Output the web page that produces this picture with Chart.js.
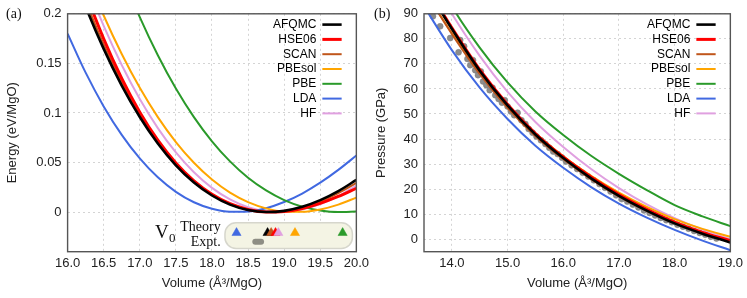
<!DOCTYPE html>
<html>
<head>
<meta charset="utf-8">
<script src="https://cdn.jsdelivr.net/npm/chart.js@4/dist/chart.umd.min.js"></script>
<style>
  html, body { margin: 0; padding: 0; background: #fff; }
  #wrap { position: relative; width: 747px; height: 298px; }
  #ca { position: absolute; left: 0; top: 0; }
  #cb { position: absolute; left: 373px; top: 0; }
</style>
</head>
<body>
<div id="wrap">
  <canvas id="ca" width="373" height="298"></canvas>
  <canvas id="cb" width="374" height="298"></canvas>
</div>
<script>
// ---- data: panel (a), energy vs volume ----
const energyVolumes = [16.0, 16.25, 16.5, 16.75, 17.0, 17.25, 17.5, 17.75, 18.0, 18.25, 18.5, 18.75, 19.0, 19.25, 19.5, 19.75, 20.0];
const eAFQMC  = [0.2557, 0.2072, 0.1646, 0.1276, 0.0959, 0.0692, 0.0472, 0.0298, 0.0167, 0.0075, 0.0020, 0.0000, 0.0012, 0.0053, 0.0120, 0.0211, 0.0324];
const eHSE06  = [0.2746, 0.2213, 0.1748, 0.1348, 0.1008, 0.0725, 0.0495, 0.0314, 0.0179, 0.0084, 0.0026, 0.0001, 0.0006, 0.0036, 0.0088, 0.0157, 0.0240];
const eSCAN   = [0.2626, 0.2128, 0.1691, 0.1312, 0.0987, 0.0714, 0.0490, 0.0312, 0.0177, 0.0082, 0.0024, 0.0001, 0.0009, 0.0045, 0.0106, 0.0190, 0.0294];
const ePBEsol = [0.2916, 0.2424, 0.1983, 0.1594, 0.1253, 0.0958, 0.0706, 0.0497, 0.0328, 0.0196, 0.0100, 0.0037, 0.0005, 0.0002, 0.0026, 0.0075, 0.0146];
const ePBE    = [0.4065, 0.3451, 0.2899, 0.2405, 0.1967, 0.1582, 0.1246, 0.0958, 0.0714, 0.0511, 0.0346, 0.0218, 0.0121, 0.0055, 0.0016, 0.0000, 0.0006];
const eLDA    = [0.1800, 0.1406, 0.1066, 0.0779, 0.0541, 0.0350, 0.0204, 0.0099, 0.0033, 0.0003, 0.0006, 0.0039, 0.0101, 0.0187, 0.0296, 0.0425, 0.0570];
const eHF     = [0.2837, 0.2330, 0.1879, 0.1484, 0.1140, 0.0847, 0.0601, 0.0401, 0.0244, 0.0128, 0.0050, 0.0009, 0.0001, 0.0026, 0.0080, 0.0161, 0.0267];
const energyXTicks = [16.0, 16.5, 17.0, 17.5, 18.0, 18.5, 19.0, 19.5, 20.0];
const energyYTicks = [0, 0.05, 0.1, 0.15, 0.2];

// equilibrium volumes shown in the inset box
const v0Methods = ["LDA", "AFQMC", "SCAN", "HSE06", "HF", "PBEsol", "PBE"];
const v0Theory  = [18.34, 18.77, 18.82, 18.88, 18.92, 19.15, 19.81];
const v0Expt    = [18.60, 18.68];

// ---- data: panel (b), pressure vs volume ----
const pressureVolumes = [13.5, 14.0, 14.5, 15.0, 15.5, 16.0, 16.5, 17.0, 17.5, 18.0, 18.5, 19.0];
const pAFQMC  = [102.0, 84.0, 67.3, 53.4, 41.8, 32.4, 24.3, 17.3, 11.4, 6.3, 2.2, -1.3];
const pHSE06  = [102.5, 84.4, 67.7, 53.8, 42.2, 32.8, 24.8, 17.8, 11.9, 6.8, 2.7, -0.6];
const pSCAN   = [99.5, 82.0, 66.0, 52.5, 41.2, 32.0, 24.0, 17.1, 11.3, 6.4, 2.4, -1.0];
const pPBEsol = [99.5, 82.3, 66.8, 53.4, 42.3, 33.1, 25.3, 18.6, 12.9, 8.0, 4.1, 1.0];
const pPBE    = [114.0, 93.0, 76.5, 62.6, 51.0, 41.6, 33.3, 26.1, 19.6, 13.6, 9.1, 5.2];
const pLDA    = [93.0, 75.5, 60.5, 48.0, 37.3, 28.5, 20.8, 14.2, 8.6, 3.7, -0.6, -4.4];
const pHF     = [109.0, 90.0, 73.2, 58.8, 46.8, 36.8, 28.0, 20.4, 13.9, 8.4, 3.8, 0.0];
const pressureXTicks = [14, 15, 16, 17, 18, 19];
const pressureYTicks = [0, 10, 20, 30, 40, 50, 60, 70, 80, 90];

// experimental compression data (gray symbols)
const expV = [13.66, 13.79, 13.97, 14.12, 14.15, 14.22, 14.28, 14.33, 14.38, 14.42, 14.47, 14.52, 14.56, 14.62, 14.68, 14.73, 14.78, 14.84, 14.90, 14.95,
              15.00, 15.06, 15.12, 15.18, 15.25, 15.32, 15.38, 15.45, 15.52, 15.60, 15.68, 15.75, 15.82, 15.90, 15.98, 16.05, 16.15, 16.25, 16.35, 16.45,
              16.55, 16.65, 16.75, 16.85, 16.95, 17.05, 17.15, 17.25, 17.35, 17.45, 17.55, 17.65, 17.75, 17.85, 17.95, 18.05, 18.15, 18.25, 18.35, 18.45,
              18.55, 18.65, 18.75];
const expP = [89.0, 85.0, 80.3, 74.6, 79.5, 77.0, 72.0, 69.5, 71.5, 67.5, 65.5, 67.0, 63.0, 61.5, 59.5, 60.5, 57.5, 56.0, 54.5, 55.5,
              53.0, 51.0, 49.5, 50.5, 47.5, 46.0, 44.0, 42.5, 41.0, 39.5, 38.0, 36.5, 35.0, 34.0, 32.5, 31.0, 29.5, 28.0, 26.5, 25.0,
              23.5, 22.0, 20.5, 19.0, 17.5, 16.0, 15.0, 13.8, 12.7, 11.5, 10.5, 9.5, 8.5, 7.6, 6.8, 5.8, 5.0, 4.2, 3.3, 2.5,
              1.8, 1.0, 0.3];

// ---- styling ----
const methods = ["AFQMC", "HSE06", "SCAN", "PBEsol", "PBE", "LDA", "HF"];
const colors = { AFQMC: "#000000", HSE06: "#ff0000", SCAN: "#c0561b", PBEsol: "#ffa500", PBE: "#2a9a2a", LDA: "#4169e1", HF: "#e0a0e0" };
const widths = { AFQMC: 2.6, HSE06: 3, SCAN: 2, PBEsol: 2, PBE: 2, LDA: 2, HF: 2 };
const SANS = '"Liberation Sans", Arial, Helvetica, sans-serif';
const SERIF = '"Liberation Serif", "Times New Roman", serif';
const tickFont = { family: SANS, size: 13 };
const gridColor = "#d4d4d4";

const energySeries = { AFQMC: eAFQMC, HSE06: eHSE06, SCAN: eSCAN, PBEsol: ePBEsol, PBE: ePBE, LDA: eLDA, HF: eHF };
const pressureSeries = { AFQMC: pAFQMC, HSE06: pHSE06, SCAN: pSCAN, PBEsol: pPBEsol, PBE: pPBE, LDA: pLDA, HF: pHF };

function curves(xs, table) {
  return methods.map(m => ({
    label: m,
    key: true,
    data: xs.map((x, i) => ({ x: x, y: table[m][i] })),
    borderColor: colors[m],
    borderWidth: widths[m],
    pointRadius: 0,
    fill: false,
    cubicInterpolationMode: "monotone",
    clip: 0
  }));
}

// box round the chart area
const framePlugin = {
  id: "frame",
  afterDraw(chart) {
    const { ctx, chartArea: a } = chart;
    ctx.save();
    ctx.strokeStyle = "#555";
    ctx.lineWidth = 1.4;
    ctx.strokeRect(a.left, a.top, a.right - a.left, a.bottom - a.top);
    ctx.restore();
  }
};

// gnuplot-like key: text first, line sample on the right
const keyPlugin = {
  id: "key",
  afterDraw(chart) {
    const { ctx, chartArea: a } = chart;
    ctx.save();
    ctx.font = "12px " + SANS;
    ctx.textAlign = "right";
    ctx.textBaseline = "middle";
    let row = 0;
    chart.data.datasets.forEach(ds => {
      if (!ds.key) return;
      const y = a.top + 10.8 + row * 14.8;
      ctx.fillStyle = "#000";
      ctx.fillText(ds.label, a.right - 40, y);
      ctx.strokeStyle = ds.borderColor;
      ctx.lineWidth = ds.borderWidth;
      ctx.beginPath();
      ctx.moveTo(a.right - 34, y);
      ctx.lineTo(a.right - 14.7, y);
      ctx.stroke();
      row++;
    });
    ctx.restore();
  }
};

// panel tag "(a)" / "(b)"
const tagPlugin = {
  id: "tag",
  afterDraw(chart, args, opts) {
    const ctx = chart.ctx;
    ctx.save();
    ctx.font = "14px " + SERIF;
    ctx.fillStyle = "#111";
    ctx.textBaseline = "middle";
    ctx.fillText(opts.text, opts.x, opts.y);
    ctx.restore();
  }
};

// V0 inset: rounded box + labels (markers are datasets)
const insetPlugin = {
  id: "inset",
  beforeDatasetsDraw(chart) {
    const { ctx, scales } = chart;
    const x0 = scales.x.getPixelForValue(18.18), x1 = scales.x.getPixelForValue(19.945);
    const y0 = scales.y.getPixelForValue(-0.0108), y1 = scales.y.getPixelForValue(-0.0368);
    const r = 11;
    ctx.save();
    ctx.beginPath();
    ctx.moveTo(x0 + r, y0);
    ctx.arcTo(x1, y0, x1, y1, r);
    ctx.arcTo(x1, y1, x0, y1, r);
    ctx.arcTo(x0, y1, x0, y0, r);
    ctx.arcTo(x0, y0, x1, y0, r);
    ctx.closePath();
    ctx.fillStyle = "#f4f4e4";
    ctx.fill();
    ctx.strokeStyle = "#d6d6cc";
    ctx.lineWidth = 1.5;
    ctx.stroke();

    ctx.fillStyle = "#111";
    ctx.textBaseline = "alphabetic";
    ctx.font = "19px " + SERIF;
    ctx.fillText("V", 155, 238);
    ctx.font = "13px " + SERIF;
    ctx.fillText("0", 169, 242);
    ctx.font = "14px " + SERIF;
    ctx.textAlign = "right";
    ctx.fillText("Theory", 220.7, 231);
    ctx.fillText("Expt.", 220.7, 246);
    ctx.restore();
  }
};

function axisX(min, max, ticks, height) {
  return {
    type: "linear", min: min, max: max,
    afterBuildTicks: s => { s.ticks = ticks.map(v => ({ value: v })); },
    afterFit: s => { s.height = height; },
    ticks: { callback: v => v.toFixed(1), font: tickFont, color: "#222", padding: 4, autoSkip: false, maxRotation: 0 },
    grid: { color: gridColor, drawTicks: false },
    border: { display: false, dash: [2, 3] },
    title: { display: true, text: "Volume (Å³/MgO)", font: { family: SANS, size: 13 }, color: "#222", padding: { top: 0, bottom: 6.5 } }
  };
}

function axisY(min, max, ticks, width, label, fmt, titlePad) {
  return {
    type: "linear", min: min, max: max,
    afterBuildTicks: s => { s.ticks = ticks.map(v => ({ value: v })); },
    afterFit: s => { s.width = width; },
    ticks: { callback: fmt, font: tickFont, color: "#222", padding: 6 },
    grid: { color: gridColor, drawTicks: false },
    border: { display: false, dash: [2, 3] },
    title: { display: true, text: label, font: { family: SANS, size: 13 }, color: "#222", padding: { top: titlePad, bottom: 0 } }
  };
}

// ---- panel (a) ----
const theoryRow = -0.021, exptRow = -0.030;
const energyDatasets = curves(energyVolumes, energySeries).concat([
  {
    type: "scatter",
    label: "V0 theory",
    data: v0Theory.map(v => ({ x: v, y: theoryRow })),
    pointStyle: "triangle",
    pointRadius: 5.3,
    backgroundColor: v0Methods.map(m => colors[m]),
    borderColor: v0Methods.map(m => colors[m]),
    borderWidth: 0.5
  },
  {
    type: "line",
    label: "V0 expt",
    data: v0Expt.map(v => ({ x: v, y: exptRow })),
    borderColor: "#8e8e84",
    borderWidth: 6,
    borderCapStyle: "round",
    pointRadius: 0
  }
]);

new Chart(document.getElementById("ca"), {
  type: "line",
  data: { datasets: energyDatasets },
  options: {
    responsive: false, animation: false, devicePixelRatio: 1,
    layout: { padding: { left: 0, right: 12.3, top: 10.5, bottom: 0 } },
    plugins: { legend: { display: false }, tooltip: { enabled: false }, tag: { text: "(a)", x: 6, y: 14.5 } },
    scales: {
      x: axisX(16, 20, energyXTicks, 46.3),
      y: axisY(-0.04, 0.2, energyYTicks, 67.6, "Energy (eV/MgO)", v => (v === 0 ? "0" : String(v)), 5)
    }
  },
  plugins: [insetPlugin, framePlugin, keyPlugin, tagPlugin]
});

// ---- panel (b) ----
const pressureDatasets = curves(pressureVolumes, pressureSeries).concat([
  {
    type: "scatter",
    label: "Expt.",
    data: expV.map((v, i) => ({ x: v, y: expP[i] })),
    pointStyle: "circle",
    pointRadius: 3,
    backgroundColor: "#8c8c8c",
    borderColor: "#7a7a7a",
    borderWidth: 0.5
  }
]);

new Chart(document.getElementById("cb"), {
  type: "line",
  data: { datasets: pressureDatasets },
  options: {
    responsive: false, animation: false, devicePixelRatio: 1,
    layout: { padding: { left: 0, right: 16.3, top: 10, bottom: 0 } },
    plugins: { legend: { display: false }, tooltip: { enabled: false }, tag: { text: "(b)", x: 1, y: 14.5 } },
    scales: {
      x: axisX(13.5, 19, pressureXTicks, 46.3),
      y: axisY(-5, 90, pressureYTicks, 51, "Pressure (GPa)", v => String(v), 1)
    }
  },
  plugins: [framePlugin, keyPlugin, tagPlugin]
});
</script>
</body>
</html>
